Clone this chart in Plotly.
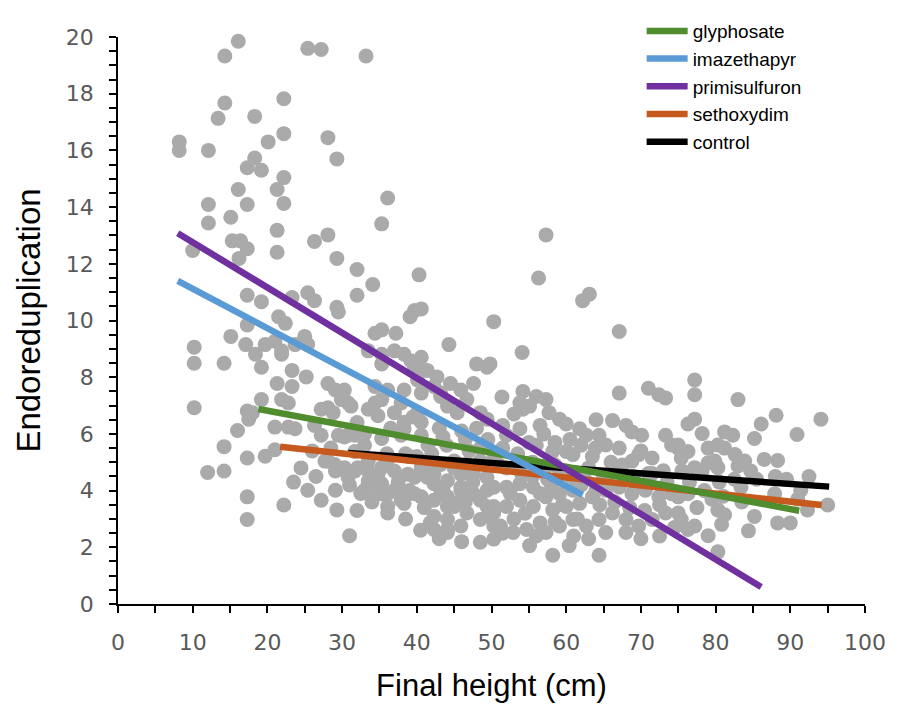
import plotly.graph_objects as go

# ---- scatter data: final height (cm) vs endoreduplication ----
height = [
    16.1, 14.3, 25.4, 27.2, 33.2, 14.3, 13.4, 18.3, 22.2, 8.2, 8.2, 12.1, 20.1, 22.2, 28.1, 29.3,
    18.3, 17.3, 19.2, 22.2, 16.1, 21.3, 22.2, 36.1, 12.1, 17.3, 35.3, 15.1, 12.1, 21.3, 28.1, 26.3,
    15.3, 16.4, 17.3, 21.3, 10.0, 16.2, 29.3, 32.0, 34.1, 32.0, 17.3, 19.2, 25.4, 26.3, 23.3, 29.3,
    10.2, 10.2, 10.2, 14.2, 15.1, 17.3, 17.1, 18.4, 19.2, 21.5, 22.4, 21.0, 21.9, 23.3, 25.0, 25.4,
    28.1, 25.2, 21.3, 23.3, 19.2, 21.9, 22.8, 17.3, 17.5, 16.0, 14.2, 17.3, 19.7, 12.0, 14.2, 17.3,
    22.2, 17.3, 31.0, 21.0, 22.8, 27.2, 29.1, 30.1, 30.8, 27.2, 29.5, 30.8, 25.4, 27.2, 29.1, 29.3,
    28.1, 29.1, 31.7, 33.5, 35.3, 36.1, 37.9, 39.7, 41.8, 44.1, 45.9, 48.5, 29.5, 34.4, 35.3, 37.2,
    39.7, 40.6, 40.3, 44.3, 48.0, 49.4, 33.5, 35.3, 38.3, 39.2, 40.6, 42.7, 44.5, 38.3, 40.6, 43.2,
    46.7, 34.4, 35.3, 33.5, 37.0, 38.3, 40.1, 31.7, 33.5, 35.3, 37.0, 38.8, 40.6, 42.3, 44.1, 45.9,
    47.6, 43.2, 45.0, 46.7, 48.5, 50.3, 50.3, 50.3, 57.3, 56.3, 62.2, 63.1, 39.1, 67.1, 54.1, 40.6,
    49.8, 30.3, 29.9, 31.2, 34.4, 34.8, 18.0, 28.1, 28.8, 23.7, 26.3, 30.3, 31.7, 38.3, 40.6, 37.9,
    36.1, 44.1, 45.4, 45.9, 21.0, 27.7, 29.0, 30.3, 32.1, 33.5, 34.8, 30.8, 33.5, 35.3, 33.0, 34.8,
    36.1, 37.0, 34.4, 38.1, 38.3, 36.1, 39.7, 41.4, 42.3, 45.9, 40.6, 42.3, 44.1, 45.9, 49.4, 42.3,
    44.1, 49.4, 44.1, 42.3, 50.3, 50.3, 37.9, 41.4, 43.2, 45.0, 46.7, 48.5, 50.3, 47.6, 49.4, 45.9,
    44.1, 48.5, 19.7, 21.9, 23.7, 35.3, 37.0, 39.7, 41.4, 40.1, 42.3, 43.2, 47.6, 48.5, 49.4, 37.9,
    40.6, 35.3,
    67.1, 71.0, 72.4, 73.3, 54.2, 56.0, 57.3, 54.2, 55.1, 57.7, 59.1, 56.5, 60.0, 61.8, 62.7, 66.2,
    68.0, 68.8, 70.1, 64.4, 65.3, 67.1, 63.9, 73.3, 74.1, 75.0, 69.7, 71.5, 68.8, 58.2, 60.0, 60.9,
    53.8, 52.0, 52.0, 53.8, 55.6, 53.8, 52.0, 50.3, 55.6, 57.3, 59.1, 60.9, 58.2, 60.0, 61.8, 63.5,
    65.3, 67.1, 68.8, 70.6, 72.4, 74.1, 51.2, 52.9, 54.7, 56.5, 57.3, 59.1, 60.9, 62.7, 64.4, 66.2,
    68.0, 69.7, 71.5, 73.3, 65.3, 68.0, 55.1, 58.2, 64.4, 60.4,
    77.2, 77.2, 83.0, 88.1, 94.1, 86.1, 90.9, 85.2, 76.3, 77.2, 78.2, 81.2, 82.3, 80.3, 81.2, 75.0,
    76.3, 75.4, 82.6, 83.9, 83.0, 79.0, 79.9, 80.3, 88.3, 77.2, 78.2, 84.7, 75.0, 76.3, 75.0, 75.4,
    77.2, 76.3, 79.0, 80.3, 81.2, 80.8, 84.4, 85.2, 88.3, 90.0, 92.3, 95.0, 80.3, 83.4, 87.9, 91.4,
    51.5, 53.5, 55.5, 57.0, 59.0, 61.0, 63.0, 65.0, 67.0, 69.0, 71.0, 73.0, 52.0, 54.0, 56.0, 58.0,
    62.0, 64.0, 66.0, 70.0, 33.0, 36.0, 39.0, 42.0, 44.0, 47.0, 46.0, 43.0, 51.4, 53.8,
    36.0, 37.5, 39.0, 40.0, 41.0, 42.5, 43.5, 45.0, 46.5, 47.5, 48.5, 49.5, 38.5, 40.5, 43.0, 46.0,
    34.0, 32.5, 31.0, 32.0,
    51.0, 52.5, 53.5, 54.5, 55.5, 56.5, 57.5, 58.5, 59.5, 60.5, 61.5, 62.5, 63.5, 64.5, 65.5, 51.5,
    53.0, 56.0, 58.5, 61.0, 63.0,
    66.5, 67.5, 68.5, 69.5, 70.5, 71.5, 72.5, 73.5, 74.5, 75.5, 76.5, 77.5, 78.5, 79.5, 80.5, 79.0,
    81.0, 82.5, 83.5, 85.5, 86.5, 88.0, 89.5, 91.0, 92.5, 70.0, 72.5,
    26.0, 28.5, 32.0, 33.0, 36.5, 38.5, 39.5, 41.5, 43.5, 46.5, 48.0, 49.5,
    51.5, 53.0, 55.0, 57.0, 58.5, 60.5, 62.0, 64.0, 24.5, 26.5, 23.5,
]
endo = [
    19.85, 19.33, 19.6, 19.56, 19.33, 17.67, 17.13, 17.2, 17.82, 16.3, 16.0, 16.0, 16.3, 16.59, 16.45, 15.7,
    15.73, 15.39, 15.3, 15.04, 14.62, 14.62, 14.13, 14.32, 14.09, 14.09, 13.41, 13.64, 13.44, 13.18, 13.02, 12.79,
    12.81, 12.81, 12.53, 12.41, 12.47, 12.19, 12.19, 11.8, 11.27, 10.89, 10.89, 10.66, 10.98, 10.7, 10.81, 10.47,
    9.06, 8.49, 6.92, 8.49, 9.44, 9.84, 9.15, 8.81, 8.35, 10.13, 9.9, 9.27, 8.81, 8.24, 9.44, 9.15,
    7.78, 8.01, 7.78, 7.67, 7.21, 7.21, 7.09, 6.81, 6.52, 6.12, 5.55, 5.15, 5.21, 4.64, 4.69, 3.78,
    3.49, 2.98, 2.41, 6.24, 6.24, 6.87, 7.55, 7.38, 7.09, 5.95, 5.95, 5.95, 4.01, 3.66, 4.01, 3.32,
    5.04, 4.69, 4.69, 4.24, 3.89, 3.21, 3.66, 3.89, 2.86, 2.63, 2.75, 2.18, 10.3, 9.55, 9.67, 9.55,
    10.35, 10.41, 11.61, 9.15, 8.47, 8.35, 8.93, 8.47, 8.81, 8.58, 8.24, 8.01, 7.78, 7.55, 7.44, 7.32,
    7.21, 7.67, 7.21, 6.87, 6.75, 6.41, 6.75, 5.38, 5.04, 4.81, 4.69, 4.58, 4.81, 4.58, 4.35, 4.12,
    3.89, 3.89, 3.44, 3.21, 2.98, 3.44, 4.12, 9.96, 13.02, 11.5, 10.7, 10.93, 10.13, 9.61, 8.87, 8.7,
    8.47, 7.55, 7.21, 6.98, 7.09, 6.64, 6.75, 6.92, 6.75, 6.18, 6.3, 5.89, 5.95, 6.18, 6.41, 7.09,
    7.55, 6.98, 6.75, 7.55, 5.44, 5.04, 4.92, 4.81, 4.81, 4.69, 4.58, 4.47, 4.35, 4.24, 4.01, 3.89,
    3.89, 4.01, 4.12, 3.89, 3.55, 3.44, 4.47, 4.47, 4.24, 4.58, 3.78, 3.66, 3.78, 3.66, 4.01, 3.09,
    2.98, 3.44, 2.52, 2.63, 2.75, 2.29, 3.78, 4.81, 4.92, 5.04, 4.92, 5.04, 5.15, 4.58, 4.47, 4.01,
    3.44, 3.66, 9.15, 8.93, 9.15, 8.81, 8.93, 8.35, 8.24, 7.9, 7.67, 7.44, 7.78, 6.75, 6.52, 5.95,
    5.95, 5.84,
    7.44, 7.61, 7.38, 7.27, 7.5, 7.32, 7.21, 6.87, 6.98, 6.75, 6.52, 6.3, 6.35, 6.18, 5.95, 6.47,
    6.3, 6.07, 5.95, 5.95, 5.61, 5.5, 5.5, 5.95, 5.61, 5.5, 5.27, 5.15, 5.04, 5.38, 5.38, 5.27,
    6.18, 5.95, 4.12, 4.24, 4.12, 3.66, 3.44, 3.21, 3.44, 3.78, 3.89, 4.01, 3.32, 3.44, 3.55, 3.78,
    4.01, 4.12, 3.89, 4.01, 3.78, 3.89, 2.75, 2.52, 2.63, 2.86, 2.52, 2.75, 2.98, 2.75, 2.98, 3.21,
    2.98, 2.75, 2.98, 3.21, 2.52, 2.52, 2.06, 1.72, 1.72, 2.06,
    7.9, 7.38, 7.21, 6.66, 6.52, 6.35, 5.98, 5.84, 6.35, 6.52, 6.01, 6.07, 5.95, 5.61, 5.5, 5.61,
    5.38, 5.15, 5.27, 5.04, 4.87, 4.98, 5.04, 4.81, 5.06, 4.81, 4.69, 4.69, 3.78, 3.89, 3.21, 2.98,
    2.75, 2.63, 2.41, 3.32, 3.15, 2.81, 2.58, 3.09, 2.86, 2.86, 3.32, 3.49, 1.84, 4.12, 3.89, 4.01,
    5.5, 5.3, 5.0, 4.7, 4.5, 4.6, 4.8, 4.5, 4.7, 4.5, 4.6, 4.7, 4.8, 4.6, 5.6, 4.2,
    4.2, 4.0, 5.0, 5.4, 5.6, 5.3, 5.2, 5.3, 5.6, 5.4, 6.1, 6.2, 7.3, 7.1,
    5.0, 4.3, 4.0, 5.2, 3.4, 5.0, 4.1, 4.8, 3.6, 4.3, 5.5, 3.1, 3.0, 2.6, 2.3, 2.2,
    3.6, 3.9, 4.2, 3.3,
    4.9, 3.9, 4.8, 3.2, 4.5, 3.9, 4.4, 4.9, 3.5, 4.5, 3.0, 4.4, 5.2, 3.5, 4.3, 2.5,
    3.0, 2.4, 2.9, 2.4, 2.3,
    3.6, 4.9, 3.4, 4.2, 3.3, 4.6, 3.5, 4.3, 2.7, 4.7, 4.3, 3.4, 4.0, 3.7, 4.3, 5.5,
    3.8, 4.4, 3.6, 4.4, 5.1, 4.5, 4.4, 3.7, 4.5, 2.3, 2.4,
    5.4, 5.5, 6.4, 6.0, 6.2, 5.3, 6.6, 5.6, 5.9, 5.8, 6.2, 5.8,
    6.3, 6.7, 5.7, 6.0, 5.7, 5.8, 5.6, 6.5, 4.8, 4.5, 4.3,
]

# ---- regression lines (start / end) ----
treatments = ["glyphosate", "imazethapyr", "primisulfuron", "sethoxydim", "control"]
line_x = {
    "glyphosate": [18.8, 91.2],
    "imazethapyr": [8.0, 62.2],
    "primisulfuron": [8.0, 86.1],
    "sethoxydim": [21.7, 94.2],
    "control": [30.8, 95.2],
}
line_y = {
    "glyphosate": [6.88, 3.29],
    "imazethapyr": [11.4, 3.85],
    "primisulfuron": [13.08, 0.6],
    "sethoxydim": [5.55, 3.49],
    "control": [5.33, 4.14],
}
colors = {
    "glyphosate": "#4F8D2F",
    "imazethapyr": "#5B9BD5",
    "primisulfuron": "#7030A0",
    "sethoxydim": "#C65A1E",
    "control": "#000000",
}

x_ticks = list(range(0, 101, 10))
y_ticks = list(range(0, 21, 2))

fig = go.Figure()
fig.add_trace(go.Scatter(
    x=height, y=endo, mode="markers", showlegend=False,
    marker=dict(size=15, color="#AAAAAA", line=dict(width=0)),
    cliponaxis=False, hoverinfo="skip",
))

draw_order = ["control", "sethoxydim", "glyphosate", "primisulfuron", "imazethapyr"]
for name in draw_order:
    fig.add_trace(go.Scatter(
        x=line_x[name], y=line_y[name], mode="lines", name=name,
        line=dict(color=colors[name], width=6.5),
        legendrank=treatments.index(name) + 1,
    ))

axis_common = dict(
    showline=True, linecolor="black", linewidth=1.5,
    ticks="outside", ticklen=7, tickwidth=1.5, tickcolor="black",
    showgrid=False, zeroline=False,
    tickfont=dict(family="DejaVu Sans", size=22, color="#595959"),
)

fig.update_xaxes(
    range=[0, 100], tickvals=x_ticks, ticktext=[str(v) for v in x_ticks],
    minor=dict(dtick=5, tick0=0, ticks="outside", ticklen=7, tickwidth=1.5,
               tickcolor="black", showgrid=False),
    ticklabelstandoff=11,
    title=dict(text="Final height (cm)", standoff=20,
               font=dict(family="Liberation Sans, Arial", size=31, color="black")),
    **axis_common,
)
fig.update_yaxes(
    range=[0, 20], tickvals=y_ticks, ticktext=[str(v) for v in y_ticks],
    minor=dict(dtick=0.5, tick0=0, ticks="outside", ticklen=7, tickwidth=1.5,
               tickcolor="black", showgrid=False),
    ticklabelstandoff=11,
    title=dict(text="Endoreduplication", standoff=15,
               font=dict(family="Liberation Sans, Arial", size=33, color="black")),
    **axis_common,
)

fig.update_layout(
    width=898, height=713,
    margin=dict(l=118, r=27, t=21, b=109),
    plot_bgcolor="white", paper_bgcolor="white",
    legend=dict(
        x=0.701, y=1.044, xanchor="left", yanchor="top",
        bgcolor="rgba(0,0,0,0)", borderwidth=0,
        font=dict(family="Liberation Sans, Arial", size=19, color="black"),
        tracegroupgap=0, itemwidth=41,
    ),
)

fig.write_html("out.html")
